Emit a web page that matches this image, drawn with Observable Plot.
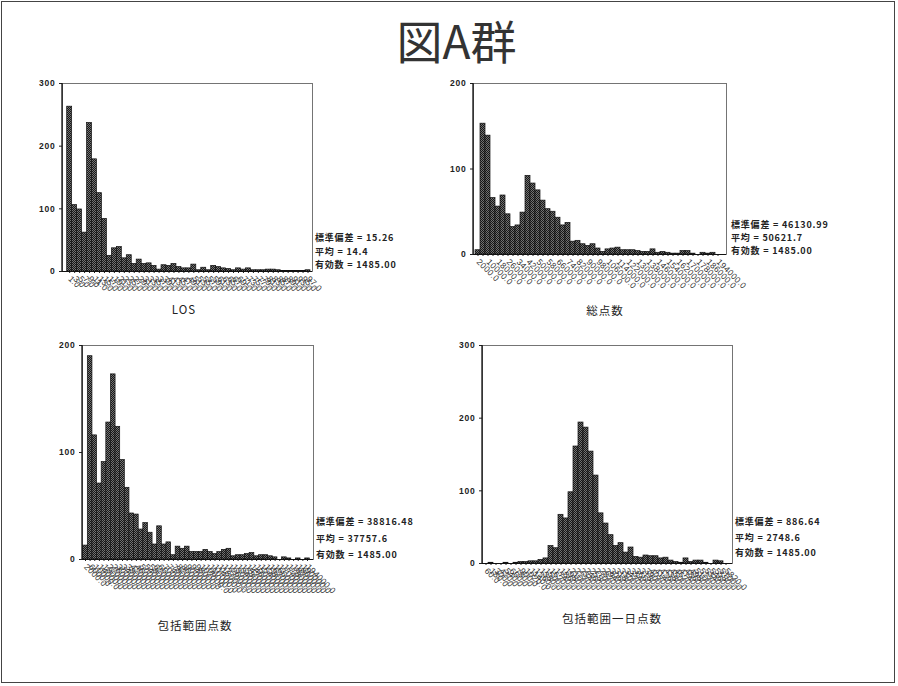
<!DOCTYPE html>
<html>
<head>
<meta charset="utf-8">
<script src="https://cdn.jsdelivr.net/npm/d3@7"></script>
<script src="https://cdn.jsdelivr.net/npm/@observablehq/plot@0.6"></script>
<style>
  body { margin: 0; background: #fff; }
  #page { position: relative; width: 898px; height: 686px; overflow: hidden; background: #fff;
          font-family: "Noto Sans CJK JP", "Noto Sans", sans-serif; color: #222; }
  #border { position: absolute; left: 1px; top: 1px; width: 892px; height: 680px; border: 1.5px solid #444; }
  .title { position: absolute; left: 0; width: 913px; top: 16px; text-align: center;
           font-size: 46px; line-height: 46px; color: #333; }
  .stats { position: absolute; font-size: 9px; font-weight: bold; letter-spacing: 0.8px; white-space: nowrap; color: #222; }
  .xtitle { position: absolute; font-size: 11.5px; line-height: 14px; transform: translate(-50%, -50%);
            white-space: nowrap; letter-spacing: 1px; color: #222; }
</style>
</head>
<body>
<div id="page">
  <div id="border"></div>
  <div class="title">図A群</div>
</div>
<script>
// Bin midpoints (tick labels) and frequencies for each histogram
const losBins = [1, 3, 5, 7, 9, 11, 13, 15, 17, 19, 21, 23, 25, 27, 29, 31, 33, 35, 37, 39,
  41, 43, 45, 47, 49, 51, 53, 55, 57, 59, 61, 63, 65, 67, 69, 71, 73, 75, 77, 79,
  81, 83, 85, 87, 89, 91, 93, 95, 97];
const losCounts = [263, 106, 99, 62, 237, 179, 125, 84, 25, 37, 39, 21, 26, 12, 19, 12, 13, 9, 3, 10,
  9, 12, 7, 5, 5, 11, 2, 6, 2, 9, 7, 5, 4, 2, 5, 3, 5, 2, 2, 2,
  3, 3, 2, 1, 1, 1, 1, 1, 2];

const pointBins = [2000, 6000, 10000, 14000, 18000, 22000, 26000, 30000, 34000, 38000,
  42000, 46000, 50000, 54000, 58000, 62000, 66000, 70000, 74000, 78000,
  82000, 86000, 90000, 94000, 98000, 102000, 106000, 110000, 114000, 118000,
  122000, 126000, 130000, 134000, 138000, 142000, 146000, 150000, 154000, 158000,
  162000, 166000, 170000, 174000, 178000, 182000, 186000, 190000, 194000];
// Only every other bin is labelled on the 総点数 axis
const totalLabelled = [2000, 10000, 18000, 26000, 34000, 42000, 50000, 58000, 66000, 74000,
  82000, 90000, 98000, 106000, 114000, 122000, 130000, 138000, 146000, 154000,
  162000, 170000, 178000, 186000, 194000];
const totalCounts = [5, 153, 139, 66, 56, 69, 47, 32, 34, 49, 92, 83, 75, 63, 53, 50, 43, 34, 37, 15,
  16, 12, 10, 12, 7, 3, 6, 7, 8, 5, 5, 5, 4, 3, 3, 6, 2, 3, 2, 1,
  1, 4, 4, 1, 0, 2, 1, 2, 0];

const inclusiveCounts = [13, 190, 116, 71, 91, 128, 173, 124, 93, 67, 43, 42, 28, 34, 25, 14, 31, 14, 16, 4,
  12, 10, 12, 7, 7, 7, 9, 7, 5, 7, 9, 10, 3, 4, 4, 5, 6, 3, 4, 4,
  3, 2, 0, 2, 1, 0, 1, 0, 1];

const dailyBins = [60, 180, 300, 420, 540, 660, 780, 900, 1020, 1140, 1260, 1380, 1500, 1620, 1740,
  1860, 1980, 2100, 2220, 2340, 2460, 2580, 2700, 2820, 2940, 3060, 3180, 3300, 3420, 3540,
  3660, 3780, 3900, 4020, 4140, 4260, 4380, 4500, 4620, 4740, 4860, 4980, 5100, 5220, 5340,
  5460, 5580, 5700, 5820];
const dailyCounts = [0, 1, 0, 0, 1, 0, 1, 2, 2, 3, 3, 5, 7, 24, 21, 67, 62, 98, 161, 194,
  187, 154, 121, 69, 55, 39, 24, 28, 15, 22, 9, 8, 11, 10, 10, 7, 8, 4, 2, 1,
  7, 2, 4, 4, 1, 0, 4, 3, 0];

const ticks300 = [0, 100, 200, 300];
const ticks200 = [0, 100, 200];

const statLines = {
  los: ["標準偏差 = 15.26", "平均 = 14.4", "有効数 = 1485.00"],
  total: ["標準偏差 = 46130.99", "平均 = 50621.7", "有効数 = 1485.00"],
  inclusive: ["標準偏差 = 38816.48", "平均 = 37757.6", "有効数 = 1485.00"],
  daily: ["標準偏差 = 886.64", "平均 = 2748.6", "有効数 = 1485.00"]
};

const page = document.getElementById("page");

function histogram({id, bins, counts, labelled, yTicks, box, inset, stats, statsBox, title, titleAt}) {
  const [x0, y0, x1, y1] = box;
  const mL = 36, mT = 6, mR = 4, mB = 50;
  const data = bins.map((bin, i) => ({bin, count: counts[i]}));
  const shown = new Set(labelled ?? bins);

  const chart = Plot.plot({
    width: (x1 - x0) + mL + mR,
    height: (y1 - y0) + mT + mB,
    marginLeft: mL, marginTop: mT, marginRight: mR, marginBottom: mB,
    style: {background: "transparent", fontFamily: "'Liberation Sans', Arial, sans-serif", overflow: "visible", color: "#222"},
    x: {domain: bins, padding: 0, insetLeft: inset[0], insetRight: inset[1], label: null,
        tickSize: 2, tickPadding: 4, tickRotate: 45,
        tickFormat: d => shown.has(d) ? d.toFixed(1) : ""},
    y: {domain: [0, yTicks[yTicks.length - 1]], ticks: yTicks, tickSize: 3, tickPadding: 4, label: null},
    marks: [
      // stipple fill used for the bars
      () => {
        const defs = d3.create("svg:defs");
        const p = defs.append("pattern").attr("id", id).attr("width", 2).attr("height", 2)
          .attr("patternUnits", "userSpaceOnUse");
        p.append("rect").attr("width", 2).attr("height", 2).attr("fill", "#737373");
        p.append("rect").attr("width", 1).attr("height", 1).attr("fill", "#181818");
        p.append("rect").attr("x", 1).attr("y", 1).attr("width", 1).attr("height", 1).attr("fill", "#181818");
        return defs.node();
      },
      Plot.frame({stroke: "#666", strokeWidth: 0.9}),
      Plot.barY(data, {x: "bin", y: "count", fill: `url(#${id})`, stroke: "#111", strokeWidth: 0.7}),
      Plot.ruleY([0], {stroke: "#111", strokeWidth: 1.2}),
      // left axis line
      (index, scales, values, dims) => d3.create("svg:line")
        .attr("x1", dims.marginLeft).attr("x2", dims.marginLeft)
        .attr("y1", dims.marginTop).attr("y2", dims.height - dims.marginBottom)
        .attr("stroke", "#111").attr("stroke-width", 1.3).node()
    ]
  });

  chart.style.position = "absolute";
  chart.style.left = (x0 - mL) + "px";
  chart.style.top = (y0 - mT) + "px";
  d3.select(chart).selectAll("g[aria-label='y-axis tick label']")
    .attr("font-size", 8.5).attr("font-weight", "bold").attr("letter-spacing", 0.8);
  d3.select(chart).selectAll("g[aria-label='x-axis tick label']")
    .attr("font-size", 8.5).attr("fill", "#333").attr("letter-spacing", 0.3);
  page.appendChild(chart);

  const s = document.createElement("div");
  s.className = "stats";
  s.style.left = statsBox[0] + "px";
  s.style.top = statsBox[1] + "px";
  s.style.lineHeight = statsBox[2] + "px";
  s.innerHTML = stats.map(t => `<div>${t}</div>`).join("");
  page.appendChild(s);

  const t = document.createElement("div");
  t.className = "xtitle";
  t.style.left = titleAt[0] + "px";
  t.style.top = titleAt[1] + "px";
  t.textContent = title;
  page.appendChild(t);
}

histogram({id: "fillLos", bins: losBins, counts: losCounts, yTicks: ticks300,
  box: [62, 83, 312, 271], inset: [4.7, 2], stats: statLines.los, statsBox: [315, 231, 13.5],
  title: "LOS", titleAt: [184, 309]});

histogram({id: "fillTotal", bins: pointBins, counts: totalCounts, labelled: totalLabelled, yTicks: ticks200,
  box: [473, 83, 726, 254], inset: [2, 6], stats: statLines.total, statsBox: [731, 218, 13],
  title: "総点数", titleAt: [605, 310]});

histogram({id: "fillInclusive", bins: pointBins, counts: inclusiveCounts, yTicks: ticks200,
  box: [82, 345, 313, 559], inset: [0.7, 3.7], stats: statLines.inclusive, statsBox: [316, 514, 16.5],
  title: "包括範囲点数", titleAt: [195, 625]});

histogram({id: "fillDaily", bins: dailyBins, counts: dailyCounts, yTicks: ticks300,
  box: [482, 345, 732, 563], inset: [1.3, 3.7], stats: statLines.daily, statsBox: [735, 514, 15.5],
  title: "包括範囲一日点数", titleAt: [612, 618]});
</script>
</body>
</html>
